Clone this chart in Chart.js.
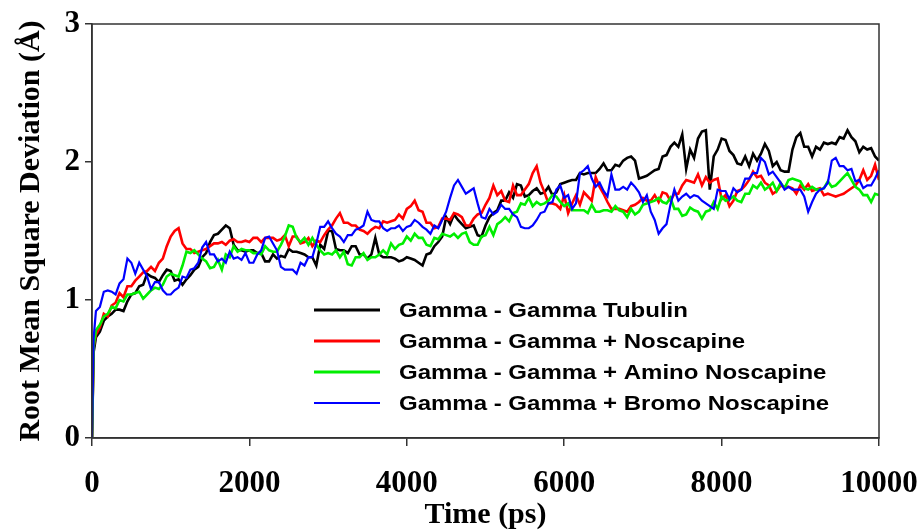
<!DOCTYPE html>
<html>
<head>
<meta charset="utf-8">
<script src="https://cdn.jsdelivr.net/npm/chart.js@4.4.0/dist/chart.umd.min.js"></script>
<style>
    html, body { margin: 0; padding: 0; background: #fff; }
    #wrap { width: 920px; height: 530px; }
</style>
</head>
<body>
<div id="wrap"><canvas id="rmsdChart" width="920" height="530"></canvas></div>
<script>
// time axis (ps)
const times = [
    0, 20,
    50, 100, 150, 200, 250, 300, 350, 400, 450, 500,
    550, 600, 650, 700, 750, 800, 850, 900, 950, 1000,
    1050, 1100, 1150, 1200, 1250, 1300, 1350, 1400, 1450, 1500,
    1550, 1600, 1650, 1700, 1750, 1800, 1850, 1900, 1950, 2000,
    2050, 2100, 2150, 2200, 2250, 2300, 2350, 2400, 2450, 2500,
    2550, 2600, 2650, 2700, 2750, 2800, 2850, 2900, 2950, 3000,
    3050, 3100, 3150, 3200, 3250, 3300, 3350, 3400, 3450, 3500,
    3550, 3600, 3650, 3700, 3750, 3800, 3850, 3900, 3950, 4000,
    4050, 4100, 4150, 4200, 4250, 4300, 4350, 4400, 4450, 4500,
    4550, 4600, 4650, 4700, 4750, 4800, 4850, 4900, 4950, 5000,
    5050, 5100, 5150, 5200, 5250, 5300, 5350, 5400, 5450, 5500,
    5550, 5600, 5650, 5700, 5750, 5800, 5850, 5900, 5950, 6000,
    6050, 6100, 6150, 6200, 6250, 6300, 6350, 6400, 6450, 6500,
    6550, 6600, 6650, 6700, 6750, 6800, 6850, 6900, 6950, 7000,
    7050, 7100, 7150, 7200, 7250, 7300, 7350, 7400, 7450, 7500,
    7550, 7600, 7650, 7700, 7750, 7800, 7850, 7900, 7950, 8000,
    8050, 8100, 8150, 8200, 8250, 8300, 8350, 8400, 8450, 8500,
    8550, 8600, 8650, 8700, 8750, 8800, 8850, 8900, 8950, 9000,
    9050, 9100, 9150, 9200, 9250, 9300, 9350, 9400, 9450, 9500,
    9550, 9600, 9650, 9700, 9750, 9800, 9850, 9900, 9950, 10000
];

// RMSD (Å), one row per 500 ps
const rmsdTubulin = [
    0, 0.62,
    0.73, 0.77, 0.85, 0.88, 0.90, 0.93, 0.93, 0.92, 0.99, 1.04,
    1.05, 1.10, 1.11, 1.19, 1.17, 1.16, 1.13, 1.18, 1.22, 1.21,
    1.14, 1.15, 1.11, 1.15, 1.18, 1.22, 1.24, 1.31, 1.34, 1.42,
    1.47, 1.48, 1.51, 1.54, 1.52, 1.40, 1.36, 1.36, 1.35, 1.36,
    1.36, 1.34, 1.34, 1.28, 1.28, 1.33, 1.30, 1.32, 1.31, 1.37,
    1.35, 1.35, 1.34, 1.33, 1.31, 1.31, 1.25, 1.40, 1.37, 1.50,
    1.50, 1.37, 1.36, 1.36, 1.34, 1.39, 1.39, 1.33, 1.33, 1.30,
    1.33, 1.45, 1.33, 1.31, 1.31, 1.31, 1.30, 1.28, 1.29, 1.31,
    1.30, 1.29, 1.27, 1.25, 1.33, 1.34, 1.39, 1.42, 1.46, 1.60,
    1.55, 1.62, 1.58, 1.55, 1.52, 1.53, 1.54, 1.47, 1.46, 1.54,
    1.60, 1.63, 1.65, 1.72, 1.72, 1.78, 1.74, 1.84, 1.83, 1.75,
    1.76, 1.79, 1.81, 1.77, 1.78, 1.82, 1.76, 1.78, 1.84, 1.85,
    1.86, 1.87, 1.87, 1.92, 1.91, 1.92, 1.92, 1.92, 1.95, 1.99,
    1.94, 1.94, 1.98, 1.97, 2.01, 2.03, 2.04, 2.01, 1.88, 1.89,
    1.90, 1.92, 1.94, 1.95, 2.04, 2.05, 2.11, 2.14, 2.11, 2.20,
    1.95, 2.09, 2.03, 2.17, 2.22, 2.23, 1.80, 2.04, 2.09, 2.17,
    2.16, 2.08, 2.05, 1.99, 1.98, 2.04, 1.97, 2.06, 2.01, 2.06,
    2.13, 2.08, 1.97, 2.00, 1.94, 1.93, 1.93, 2.09, 2.18, 2.21,
    2.11, 2.11, 2.04, 2.11, 2.09, 2.14, 2.13, 2.14, 2.13, 2.18,
    2.17, 2.23, 2.18, 2.15, 2.07, 2.11, 2.09, 2.10, 2.04, 2.01
];
const rmsdNoscapine = [
    0, 0.66,
    0.75, 0.80, 0.90, 0.88, 0.96, 0.98, 1.05, 1.02, 1.10, 1.10,
    1.14, 1.17, 1.20, 1.21, 1.24, 1.21, 1.27, 1.30, 1.39, 1.46,
    1.50, 1.52, 1.41, 1.37, 1.37, 1.34, 1.35, 1.36, 1.37, 1.39,
    1.41, 1.41, 1.42, 1.40, 1.43, 1.44, 1.42, 1.42, 1.43, 1.42,
    1.45, 1.45, 1.42, 1.45, 1.45, 1.45, 1.43, 1.44, 1.47, 1.39,
    1.46, 1.46, 1.41, 1.42, 1.45, 1.39, 1.43, 1.42, 1.47, 1.51,
    1.54, 1.59, 1.63, 1.56, 1.56, 1.54, 1.54, 1.51, 1.50, 1.48,
    1.51, 1.53, 1.52, 1.57, 1.56, 1.57, 1.58, 1.62, 1.59, 1.66,
    1.68, 1.72, 1.65, 1.64, 1.56, 1.56, 1.52, 1.53, 1.59, 1.59,
    1.58, 1.63, 1.62, 1.60, 1.54, 1.54, 1.59, 1.62, 1.63, 1.69,
    1.74, 1.83, 1.76, 1.79, 1.72, 1.71, 1.83, 1.76, 1.76, 1.80,
    1.84, 1.92, 1.97, 1.85, 1.78, 1.70, 1.70, 1.69, 1.66, 1.76,
    1.63, 1.70, 1.76, 1.69, 1.78, 1.75, 1.72, 1.89, 1.82, 1.77,
    1.71, 1.66, 1.66, 1.66, 1.65, 1.64, 1.68, 1.69, 1.71, 1.74,
    1.72, 1.72, 1.76, 1.71, 1.78, 1.77, 1.72, 1.77, 1.77, 1.83,
    1.87, 1.86, 1.85, 1.91, 1.83, 1.89, 1.85, 1.87, 1.88, 1.73,
    1.76, 1.68, 1.72, 1.79, 1.80, 1.83, 1.87, 1.93, 1.89, 1.90,
    1.85, 1.83, 1.77, 1.79, 1.83, 1.82, 1.82, 1.81, 1.77, 1.83,
    1.80, 1.84, 1.79, 1.80, 1.81, 1.76, 1.77, 1.76, 1.75, 1.76,
    1.77, 1.79, 1.81, 1.83, 1.87, 1.94, 1.87, 1.90, 1.98, 1.87
];
const rmsdAmino = [
    0, 0.66,
    0.78, 0.82, 0.88, 0.90, 0.95, 0.94, 1.00, 0.99, 1.04, 1.04,
    1.05, 1.06, 1.01, 1.04, 1.07, 1.09, 1.08, 1.11, 1.17, 1.19,
    1.18, 1.17, 1.25, 1.35, 1.34, 1.36, 1.33, 1.30, 1.28, 1.23,
    1.24, 1.29, 1.22, 1.33, 1.31, 1.39, 1.35, 1.37, 1.36, 1.36,
    1.34, 1.34, 1.33, 1.39, 1.36, 1.35, 1.35, 1.40, 1.46, 1.54,
    1.53, 1.45, 1.42, 1.45, 1.40, 1.45, 1.40, 1.36, 1.33, 1.34,
    1.33, 1.36, 1.31, 1.35, 1.26, 1.25, 1.31, 1.31, 1.34, 1.29,
    1.31, 1.31, 1.33, 1.36, 1.33, 1.41, 1.37, 1.40, 1.41, 1.46,
    1.43, 1.48, 1.45, 1.45, 1.40, 1.39, 1.45, 1.44, 1.48, 1.47,
    1.46, 1.48, 1.45, 1.48, 1.49, 1.42, 1.40, 1.40, 1.46, 1.47,
    1.53, 1.47, 1.55, 1.57, 1.60, 1.57, 1.63, 1.64, 1.70, 1.69,
    1.74, 1.68, 1.71, 1.69, 1.70, 1.72, 1.76, 1.75, 1.71, 1.68,
    1.70, 1.65, 1.65, 1.65, 1.65, 1.63, 1.69, 1.64, 1.64, 1.65,
    1.65, 1.64, 1.68, 1.65, 1.64, 1.60, 1.66, 1.62, 1.64, 1.69,
    1.70, 1.71, 1.72, 1.74, 1.71, 1.70, 1.74, 1.66, 1.66, 1.61,
    1.62, 1.67, 1.65, 1.64, 1.59, 1.64, 1.65, 1.71, 1.66, 1.75,
    1.72, 1.73, 1.75, 1.72, 1.71, 1.77, 1.77, 1.83, 1.81, 1.85,
    1.80, 1.82, 1.85, 1.79, 1.85, 1.81, 1.87, 1.88, 1.87, 1.86,
    1.81, 1.80, 1.82, 1.80, 1.80, 1.81, 1.86, 1.82, 1.83, 1.86,
    1.89, 1.92, 1.87, 1.82, 1.80, 1.76, 1.76, 1.71, 1.77, 1.76
];
const rmsdBromo = [
    0, 0.72,
    0.92, 0.95, 1.06, 1.07, 1.06, 1.04, 1.12, 1.15, 1.30, 1.27,
    1.19, 1.27, 1.22, 1.17, 1.08, 1.13, 1.13, 1.07, 1.04, 1.04,
    1.07, 1.09, 1.17, 1.16, 1.22, 1.23, 1.27, 1.38, 1.42, 1.33,
    1.33, 1.28, 1.30, 1.27, 1.35, 1.30, 1.31, 1.29, 1.34, 1.27,
    1.27, 1.33, 1.36, 1.45, 1.46, 1.41, 1.36, 1.24, 1.22, 1.22,
    1.22, 1.19, 1.27, 1.25, 1.31, 1.31, 1.41, 1.53, 1.53, 1.57,
    1.52, 1.48, 1.46, 1.42, 1.47, 1.47, 1.51, 1.52, 1.54, 1.64,
    1.58, 1.57, 1.57, 1.52, 1.50, 1.52, 1.52, 1.54, 1.50, 1.53,
    1.54, 1.58, 1.56, 1.53, 1.51, 1.48, 1.54, 1.52, 1.58, 1.64,
    1.74, 1.83, 1.87, 1.82, 1.77, 1.79, 1.81, 1.70, 1.60, 1.59,
    1.66, 1.62, 1.64, 1.69, 1.66, 1.66, 1.62, 1.60, 1.53, 1.52,
    1.52, 1.54, 1.58, 1.63, 1.64, 1.70, 1.71, 1.80, 1.83, 1.74,
    1.76, 1.66, 1.70, 1.92, 1.94, 1.97, 1.88, 1.82, 1.85, 1.79,
    1.75, 1.91, 1.80, 1.80, 1.82, 1.80, 1.85, 1.82, 1.78, 1.71,
    1.76, 1.64, 1.58, 1.48, 1.52, 1.55, 1.69, 1.80, 1.72, 1.75,
    1.77, 1.74, 1.76, 1.75, 1.72, 1.70, 1.68, 1.66, 1.80, 1.79,
    1.79, 1.73, 1.81, 1.78, 1.80, 1.88, 1.88, 1.92, 1.92, 2.03,
    2.00, 1.91, 1.93, 1.89, 1.85, 1.80, 1.82, 1.80, 1.80, 1.80,
    1.75, 1.64, 1.71, 1.77, 1.80, 1.81, 1.85, 2.01, 2.03, 1.97,
    1.97, 1.94, 1.95, 1.86, 1.87, 1.81, 1.83, 1.83, 1.88, 1.94
];

const seriesNames = [
    'Gamma - Gamma Tubulin',
    'Gamma - Gamma + Noscapine',
    'Gamma - Gamma + Amino Noscapine',
    'Gamma - Gamma + Bromo Noscapine'
];
const seriesColors = ['#000000', '#ff0000', '#00ee00', '#0000ff'];
const xTicks = [0, 2000, 4000, 6000, 8000, 10000];
const yTicks = [0, 1, 2, 3];

const serif = '"Liberation Serif", "Times New Roman", serif';

function toPoints(vals) {
    return times.map((t, i) => ({ x: t, y: vals[i] }));
}

// box round the plot + the key inside it
const boxAndKey = {
    id: 'boxAndKey',
    afterDraw(chart) {
        const ctx = chart.ctx;
        const a = chart.chartArea;
        ctx.save();
        ctx.strokeStyle = '#333';
        ctx.lineWidth = 1.5;
        ctx.strokeRect(a.left, a.top, a.right - a.left, a.bottom - a.top);

        const x0 = a.left + 222;
        const y0 = a.top + 286;
        const rowGap = 31;
        ctx.font = 'bold 20px "Liberation Sans", Arial, sans-serif';
        ctx.textBaseline = 'middle';
        chart.data.datasets.forEach((ds, i) => {
            const y = y0 + i * rowGap;
            ctx.beginPath();
            ctx.strokeStyle = ds.borderColor;
            ctx.lineWidth = i === 3 ? 2 : 3;
            ctx.moveTo(x0, y);
            ctx.lineTo(x0 + 66, y);
            ctx.stroke();
            ctx.save();
            ctx.translate(x0 + 85, y + 1);
            ctx.scale(1.2, 1);
            ctx.fillStyle = '#000';
            ctx.fillText(ds.label, 0, 0);
            ctx.restore();
        });
        ctx.restore();
    }
};

const series = [rmsdTubulin, rmsdNoscapine, rmsdAmino, rmsdBromo];

const myChart = new Chart(document.getElementById('rmsdChart'), {
    type: 'line',
    data: {
        datasets: series.map((vals, i) => ({
            label: seriesNames[i],
            data: toPoints(vals),
            borderColor: seriesColors[i],
            backgroundColor: seriesColors[i],
            borderWidth: i === 3 ? 2.2 : 2.6,
            pointRadius: 0,
            tension: 0,
            fill: false,
            order: 3 - i
        }))
    },
    options: {
        responsive: false,
        animation: false,
        layout: { padding: { top: 24, right: 41, left: 0, bottom: -3 } },
        plugins: {
            legend: { display: false },
            tooltip: { enabled: false }
        },
        scales: {
            x: {
                type: 'linear',
                min: 0,
                max: 10000,
                afterFit: s => {
                    s.height = 95;
                    s.paddingLeft = 0;
                    s.paddingRight = 0;
                },
                afterBuildTicks: s => { s.ticks = xTicks.map(v => ({ value: v })); },
                grid: { drawOnChartArea: false, tickLength: 8, color: '#333', lineWidth: 1.5 },
                border: { color: '#333', width: 1.5 },
                ticks: {
                    color: '#000',
                    padding: 19,
                    maxRotation: 0,
                    font: { family: serif, size: 31, weight: 'bold' },
                    callback: v => String(v)
                },
                title: {
                    display: true,
                    text: 'Time (ps)',
                    color: '#000',
                    padding: { top: 0, bottom: 0 },
                    font: { family: serif, size: 30, weight: 'bold' }
                }
            },
            y: {
                min: 0,
                max: 3,
                afterFit: s => {
                    s.width = 92;
                    s.paddingTop = 0;
                    s.paddingBottom = 0;
                },
                afterBuildTicks: s => { s.ticks = yTicks.map(v => ({ value: v })); },
                grid: { drawOnChartArea: false, tickLength: 7, color: '#333', lineWidth: 1.5 },
                border: { color: '#333', width: 1.5 },
                ticks: {
                    color: '#000',
                    padding: 5,
                    font: { family: serif, size: 31, weight: 'bold' },
                    callback: v => String(v)
                },
                title: {
                    display: true,
                    text: 'Root Mean Square Deviation (Å)',
                    color: '#000',
                    padding: { top: 13, bottom: 0 },
                    font: { family: serif, size: 30, weight: 'bold' }
                }
            }
        }
    },
    plugins: [boxAndKey]
});
</script>
</body>
</html>
